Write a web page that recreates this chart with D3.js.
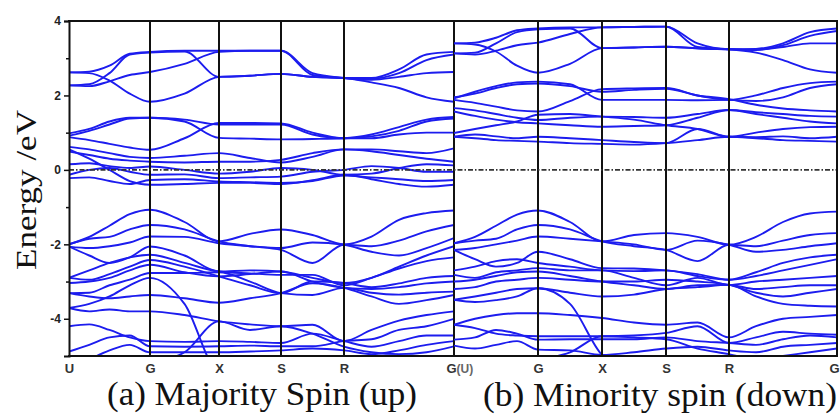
<!DOCTYPE html>
<html>
<head>
<meta charset="utf-8">
<title>band structure | d3</title>
<style>
    body { margin: 0; background: #fff; }
    .band { fill: none; stroke: #1c1cee; stroke-width: 1.9; stroke-linejoin: round; }
    .ktick text { font-family: "Liberation Sans", Arial, sans-serif; font-weight: bold; font-size: 13px; fill: #333; }
    .yax text { font-family: "Liberation Sans", Arial, sans-serif; font-weight: bold; font-size: 12px; fill: #222; }
    .caption { font-family: "Liberation Serif", "Times New Roman", serif; fill: #111; }
</style>
</head>
<body>
<svg width="840" height="414"></svg>

<script src="https://cdn.jsdelivr.net/npm/d3@7"></script>
<script>

// k sample positions, in units of high-symmetry segments (0 = U, 1 = G, 2 = X, 3 = S, 4 = R, 5 = G)
var kPoints = [0, 0.25, 0.5, 0.75, 1, 1.5, 2, 2.5, 3, 3.5, 4, 4.25, 4.5, 4.75, 5];
var kLabelsUp   = ['U', 'G', 'X', 'S', 'R', 'G'];
var kLabelsDown = ['(U)', 'G', 'X', 'S', 'R', 'G'];
var energyTicks = [-4, -2, 0, 2, 4];
var energyMinor = [-3, -1, 1, 3];

// majority spin (up), energies in eV at kPoints
var upConduction = [
    [2.62, 2.64, 2.8, 3.12, 3.17, 3.2, 3.2, 3.2, 3.2, 2.55, 2.47, 2.47, 2.7, 3.1, 3.17],
    [2.27, 2.3, 2.6, 3.1, 3.15, 3.18, 2.5, 2.53, 2.58, 2.5, 2.47, 2.45, 2.6, 2.95, 3.1],
    [2.27, 2.25, 2.38, 2.55, 2.63, 2.85, 3.17, 3.2, 3.2, 2.6, 2.47, 2.42, 2.5, 2.6, 2.63],
    [2.62, 2.6, 2.4, 2.05, 1.83, 2.05, 2.5, 2.53, 2.58, 2.5, 2.47, 2.35, 2.2, 1.95, 1.83]
];
var upMiddle = [
    [0.92, 1.05, 1.22, 1.38, 1.4, 1.3, 0.86, 0.84, 0.82, 0.83, 0.85, 0.95, 1.15, 1.35, 1.42],
    [0.98, 1.1, 1.3, 1.4, 1.4, 1.35, 1.22, 1.22, 1.22, 0.95, 0.85, 0.9, 1.05, 1.3, 1.38],
    [0.88, 0.8, 0.7, 0.6, 0.54, 0.85, 1.26, 1.26, 1.25, 1.0, 0.85, 0.85, 0.95, 1.0, 1.0],
    [0.62, 0.55, 0.45, 0.35, 0.32, 0.38, 0.45, 0.32, 0.2, 0.35, 0.55, 0.55, 0.5, 0.45, 0.58],
    [0.49, 0.4, 0.3, 0.25, 0.22, 0.2, 0.22, 0.22, 0.27, 0.45, 0.55, 0.5, 0.4, 0.3, 0.22]
];
var upFermi = [
    [0.15, 0.18, 0.1, 0.05, 0.09, 0.0, -0.1, -0.05, 0.05, 0.0, -0.13, -0.1, 0.05, 0.15, 0.12],
    [-0.13, 0.0, 0.05, -0.05, -0.13, -0.12, -0.22, -0.2, -0.18, -0.05, 0.0, 0.1, 0.05, -0.05, -0.05],
    [-0.22, -0.2, -0.3, -0.38, -0.27, -0.25, -0.31, -0.33, -0.35, -0.3, -0.15, -0.2, -0.25, -0.3, -0.27],
    [0.55, 0.3, 0.0, -0.3, -0.4, -0.38, -0.35, -0.35, -0.38, -0.28, -0.13, -0.25, -0.38, -0.45, -0.4]
];
var upValence = [
    [-2.0, -1.8, -1.5, -1.19, -1.07, -1.4, -1.92, -1.72, -1.6, -1.75, -2.0, -1.79, -1.34, -1.16, -1.09],
    [-2.0, -1.85, -1.8, -1.6, -1.48, -1.6, -1.92, -2.05, -2.15, -2.5, -2.01, -2.05, -1.9, -1.65, -1.48],
    [-2.06, -2.1, -2.05, -1.95, -1.79, -1.8, -1.97, -2.05, -2.1, -1.95, -2.01, -2.2, -2.3, -2.1, -1.83],
    [-2.06, -2.3, -2.5, -2.35, -2.06, -2.3, -2.73, -2.7, -2.73, -2.9, -3.04, -2.9, -2.6, -2.3, -2.05],
    [-2.9, -2.7, -2.5, -2.35, -2.28, -2.5, -2.73, -2.78, -2.82, -2.82, -3.1, -2.9, -2.65, -2.45, -2.35],
    [-2.9, -2.95, -2.8, -2.6, -2.42, -2.6, -2.86, -3.1, -3.31, -3.0, -3.04, -3.15, -3.05, -2.9, -2.85],
    [-3.04, -3.0, -2.9, -2.7, -2.55, -2.75, -2.86, -2.8, -2.73, -3.0, -3.17, -3.2, -3.15, -3.05, -3.0],
    [-3.31, -3.3, -3.1, -2.95, -2.77, -2.77, -2.75, -3.0, -3.31, -3.36, -3.17, -3.3, -3.35, -3.3, -3.27],
    [-3.31, -3.4, -3.45, -3.4, -3.36, -3.45, -3.57, -3.45, -3.31, -3.05, -3.17, -3.4, -3.6, -3.5, -3.36],
    [-3.71, -3.6, -3.4, -3.1, -2.9, -3.6, -5.4, -5.4, -5.4, -5.4, -5.4, -5.4, -5.4, -5.4, -5.4],
    [-3.71, -3.8, -3.75, -3.8, -3.8, -3.9, -4.07, -4.15, -4.2, -4.16, -4.6, -4.3, -4.05, -3.9, -3.8],
    [-4.2, -4.15, -4.3, -4.5, -4.6, -4.62, -4.6, -4.62, -4.65, -4.4, -4.6, -4.75, -4.6, -4.45, -4.45],
    [-4.88, -4.7, -4.5, -4.45, -4.74, -4.75, -4.74, -4.72, -4.74, -4.74, -4.6, -4.55, -4.3, -4.2, -4.0],
    [-5.4, -5.1, -4.85, -4.7, -4.9, -4.9, -4.9, -4.88, -4.85, -4.8, -4.85, -4.95, -4.85, -4.7, -4.6],
    [-5.4, -5.4, -5.4, -5.3, -5.2, -4.9, -4.07, -4.3, -4.2, -4.4, -4.75, -4.9, -4.95, -4.9, -4.74]
];

// minority spin (down)
var downConduction = [
    [3.4, 3.42, 3.55, 3.75, 3.8, 3.83, 3.83, 3.84, 3.85, 3.3, 3.24, 3.25, 3.4, 3.7, 3.8],
    [3.13, 3.15, 3.4, 3.7, 3.78, 3.8, 3.27, 3.29, 3.31, 3.26, 3.24, 3.22, 3.35, 3.6, 3.73],
    [3.13, 3.1, 3.2, 3.35, 3.42, 3.65, 3.83, 3.84, 3.85, 3.4, 3.24, 3.23, 3.3, 3.4, 3.4],
    [3.4, 3.37, 3.18, 2.8, 2.61, 2.85, 3.27, 3.29, 3.31, 3.27, 3.24, 3.15, 2.95, 2.7, 2.61]
];
var downMiddle = [
    [1.92, 2.1, 2.25, 2.35, 2.37, 2.3, 1.88, 1.88, 1.88, 1.87, 1.88, 2.0, 2.2, 2.33, 2.37],
    [1.88, 1.8, 1.7, 1.6, 1.57, 1.85, 2.17, 2.19, 2.2, 2.0, 1.88, 1.85, 1.95, 2.2, 2.3],
    [1.95, 2.05, 2.2, 2.3, 2.32, 2.25, 2.1, 2.15, 2.18, 2.0, 1.9, 1.75, 1.65, 1.6, 1.57],
    [1.66, 1.6, 1.5, 1.4, 1.34, 1.4, 1.43, 1.42, 1.4, 1.5, 1.61, 1.55, 1.5, 1.45, 1.43],
    [1.57, 1.45, 1.35, 1.28, 1.25, 1.2, 1.16, 1.18, 1.2, 1.4, 1.61, 1.5, 1.4, 1.3, 1.25],
    [0.99, 1.1, 1.2, 1.3, 1.48, 1.5, 1.43, 1.35, 1.2, 1.1, 0.89, 1.0, 1.1, 1.15, 1.16],
    [0.89, 0.95, 0.9, 0.85, 0.89, 0.85, 0.8, 0.75, 0.72, 1.1, 0.89, 0.88, 0.9, 0.85, 0.89],
    [0.89, 0.85, 0.8, 0.78, 0.76, 0.72, 0.7, 0.68, 0.72, 0.8, 0.89, 0.85, 0.8, 0.78, 0.76]
];
var downValence = [
    [-1.97, -1.8, -1.5, -1.2, -1.09, -1.4, -1.92, -1.75, -1.7, -1.8, -2.01, -1.8, -1.4, -1.17, -1.12],
    [-1.97, -1.9, -1.85, -1.6, -1.48, -1.6, -1.92, -2.05, -2.15, -2.45, -2.01, -2.05, -1.9, -1.75, -1.7],
    [-2.15, -2.1, -2.0, -1.9, -1.79, -1.85, -1.92, -2.0, -2.15, -1.9, -2.01, -2.2, -2.15, -2.05, -1.97],
    [-2.15, -2.4, -2.6, -2.5, -2.2, -2.4, -2.64, -2.65, -2.7, -2.8, -2.95, -2.75, -2.5, -2.35, -2.28],
    [-2.7, -2.6, -2.45, -2.4, -2.5, -2.6, -2.7, -2.72, -2.7, -2.85, -2.95, -2.85, -2.7, -2.55, -2.4],
    [-2.82, -2.9, -2.75, -2.7, -2.64, -2.7, -2.7, -2.9, -3.1, -2.9, -3.09, -3.0, -2.95, -2.9, -2.85],
    [-3.0, -2.95, -2.85, -2.75, -2.73, -2.85, -3.0, -3.1, -3.2, -3.1, -3.09, -3.2, -3.15, -3.1, -3.1],
    [-3.2, -3.15, -3.0, -2.95, -2.9, -2.95, -3.0, -3.0, -2.95, -3.0, -3.09, -3.3, -3.4, -3.3, -3.2],
    [-3.49, -3.4, -3.3, -3.2, -3.18, -3.3, -3.4, -3.35, -3.2, -3.15, -3.09, -3.4, -3.6, -3.65, -3.67],
    [-3.49, -3.55, -3.5, -3.4, -3.18, -3.6, -4.97, -5.4, -5.4, -5.4, -5.4, -5.4, -5.4, -5.4, -5.4],
    [-4.16, -4.0, -3.9, -3.85, -3.85, -3.9, -3.98, -4.1, -4.16, -4.1, -4.5, -4.2, -4.0, -3.95, -3.9],
    [-4.16, -4.25, -4.4, -4.45, -4.47, -4.47, -4.47, -4.45, -4.38, -4.2, -4.65, -4.5, -4.35, -4.4, -4.43],
    [-4.56, -4.5, -4.3, -4.4, -4.56, -4.55, -4.55, -4.55, -4.5, -4.6, -4.65, -4.7, -4.55, -4.45, -4.5],
    [-4.72, -4.8, -4.7, -4.6, -4.83, -4.85, -4.97, -4.9, -4.8, -4.75, -4.85, -4.9, -4.75, -4.7, -4.65],
    [-5.4, -5.4, -5.3, -5.2, -5.1, -4.9, -4.47, -4.5, -4.55, -4.8, -4.95, -5.1, -5.0, -4.9, -4.8]
];

var svg = d3.select('svg');
var yTop = 21, yBottom = 356;

var y = d3.scaleLinear().domain([-5, 4]).range([yBottom, yTop]);

// piecewise k axis, one per panel
var xUp   = d3.scaleLinear().domain([0, 1, 2, 3, 4, 5]).range([69, 150, 219, 281, 344, 454]);
var xDown = d3.scaleLinear().domain([0, 1, 2, 3, 4, 5]).range([454, 538, 602, 666, 729, 837]);

function drawPanel(id, x, bands, labels) {
    var x0 = x.range()[0], x1 = x.range()[x.range().length - 1];

    svg.append('clipPath').attr('id', id)
        .append('rect')
        .attr('x', x0).attr('y', yTop)
        .attr('width', x1 - x0).attr('height', yBottom - yTop);

    var line = d3.line()
        .x(function(d, i) { return x(kPoints[i]); })
        .y(function(d) { return y(d); })
        .curve(d3.curveMonotoneX);

    var g = svg.append('g').attr('clip-path', 'url(#' + id + ')');
    g.selectAll('path.band').data(bands).enter()
        .append('path').attr('class', 'band')
        .attr('d', line);

    // high symmetry lines
    svg.append('g').selectAll('line').data([1, 2, 3, 4, 5]).enter()
        .append('line')
        .attr('x1', function(d) { return x(d); }).attr('x2', function(d) { return x(d); })
        .attr('y1', yTop).attr('y2', yBottom)
        .attr('stroke', '#111').attr('stroke-width', 2);

    // k labels
    var kax = svg.append('g').attr('class', 'ktick')
        .attr('transform', 'translate(0,' + yBottom + ')')
        .call(d3.axisBottom(x).tickValues([0, 1, 2, 3, 4, 5])
            .tickFormat(function(d) { return labels[d]; })
            .tickSize(0).tickPadding(8));
    kax.select('.domain').remove();
    return kax;
}

var kaxUp = drawPanel('clipUp', xUp, upConduction.concat(upMiddle, upFermi, upValence), kLabelsUp);
var kaxDown = drawPanel('clipDown', xDown, downConduction.concat(downMiddle, downValence), kLabelsDown);

// nudge the shared G(U) labels and the last G
kaxUp.selectAll('.tick text').filter(function(d) { return d === 5; })
    .attr('text-anchor', 'end').attr('dx', '2px');
kaxDown.selectAll('.tick text').filter(function(d) { return d === 0; })
    .attr('text-anchor', 'start').attr('dx', '2px').style('font-size', '12px').style('fill', '#666');
kaxDown.selectAll('.tick text').filter(function(d) { return d === 5; })
    .attr('text-anchor', 'end').attr('dx', '2px');

// Fermi level
svg.append('line')
    .attr('x1', 69).attr('x2', 837)
    .attr('y1', y(0)).attr('y2', y(0))
    .attr('stroke', '#333').attr('stroke-width', 1.6)
    .attr('stroke-dasharray', '5,2,1.5,2');

// frame
svg.append('line').attr('x1', 68).attr('x2', 838).attr('y1', yTop).attr('y2', yTop)
    .attr('stroke', '#111').attr('stroke-width', 2);
svg.append('line').attr('x1', 68).attr('x2', 838).attr('y1', yBottom).attr('y2', yBottom)
    .attr('stroke', '#111').attr('stroke-width', 2);
svg.append('line').attr('x1', 837).attr('x2', 837).attr('y1', yTop).attr('y2', yBottom)
    .attr('stroke', '#111').attr('stroke-width', 2);

// energy axis
var yax = svg.append('g').attr('class', 'yax')
    .attr('transform', 'translate(69,0)')
    .call(d3.axisLeft(y).tickValues(energyTicks).tickSize(5).tickPadding(3)
        .tickFormat(function(d) { return String(d); }));
yax.select('.domain').attr('stroke', '#111').attr('stroke-width', 2);
yax.selectAll('.tick line').attr('stroke', '#111').attr('stroke-width', 1.5);

var yminor = svg.append('g')
    .attr('transform', 'translate(69,0)')
    .call(d3.axisLeft(y).tickValues(energyMinor).tickSize(3).tickFormat(''));
yminor.select('.domain').remove();
yminor.selectAll('.tick line').attr('stroke', '#111').attr('stroke-width', 1.5);

// titles
svg.append('text').attr('class', 'caption')
    .attr('transform', 'translate(36,190) rotate(-90)')
    .attr('text-anchor', 'middle')
    .attr('textLength', 160).attr('lengthAdjust', 'spacingAndGlyphs')
    .style('font-size', '30px')
    .text('Energy /eV');

svg.append('text').attr('class', 'caption')
    .attr('x', 107).attr('y', 405)
    .attr('textLength', 310).attr('lengthAdjust', 'spacingAndGlyphs')
    .style('font-size', '33px')
    .text('(a) Majority Spin (up)');

svg.append('text').attr('class', 'caption')
    .attr('x', 483).attr('y', 406)
    .attr('textLength', 354).attr('lengthAdjust', 'spacingAndGlyphs')
    .style('font-size', '33px')
    .text('(b) Minority spin (down)');

</script>
</body>
</html>
